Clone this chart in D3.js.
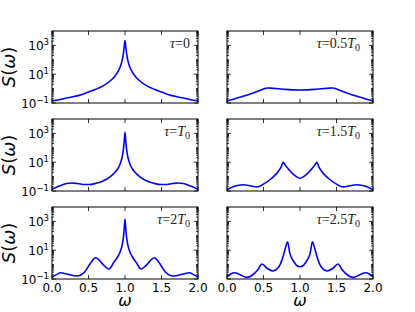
<!DOCTYPE html>
<html><head><meta charset="utf-8">
<script src="https://cdn.jsdelivr.net/npm/d3@7"></script>
<style>body{margin:0;background:#fff}svg{display:block}</style>
</head><body><svg id="c" width="415" height="312"></svg>
<script>
// ---- data ----
const tauNum = ["0", "0.5", "", "1.5", "2", "2.5"];   // τ = num·T0 ("0" means plain τ=0)
const xTicks = [0, 0.5, 1.0, 1.5, 2.0];
const xTickLabels = ["0.0", "0.5", "1.0", "1.5", "2.0"];
const yTicks = [0.1, 10, 1000];
const yTickExp = ["\u22121", "1", "3"];

const omega0 = [0,0.1,0.2,0.3,0.4,0.5,0.6,0.7,0.8,0.85,0.9,0.93,0.95,0.97,0.98,0.99,1.0,1.01,1.02,1.03,1.05,1.07,1.1,1.15,1.2,1.3,1.4,1.5,1.6,1.7,1.8,1.9,2.0];
const spectrum0 = [0.14,0.17,0.22,0.28,0.38,0.58,0.9,1.55,3.5,6.2,14,28,55,150,330,900,2200,900,330,150,55,28,14,6.2,3.5,1.55,0.9,0.58,0.38,0.28,0.22,0.17,0.14];

const omega1 = [0,0.1,0.2,0.3,0.4,0.5,0.55,0.6,0.7,0.8,0.9,1.0,1.1,1.2,1.3,1.4,1.45,1.5,1.6,1.7,1.8,1.9,2.0];
const spectrum1 = [0.14,0.19,0.27,0.39,0.6,0.95,1.1,1.08,0.98,0.88,0.82,0.8,0.82,0.88,0.98,1.08,1.1,0.95,0.6,0.39,0.27,0.19,0.14];

const omega2 = [0,0.1,0.2,0.27,0.35,0.45,0.5,0.6,0.7,0.8,0.85,0.9,0.93,0.95,0.97,0.98,0.99,1.0,1.01,1.02,1.03,1.05,1.07,1.1,1.15,1.2,1.3,1.4,1.5,1.55,1.65,1.73,1.8,1.9,2.0];
const spectrum2 = [0.13,0.22,0.33,0.36,0.33,0.28,0.28,0.34,0.5,1.0,1.7,3.5,7,14,40,95,320,1200,320,95,40,14,7,3.5,1.7,1.0,0.5,0.34,0.28,0.28,0.33,0.36,0.33,0.22,0.13];

const omega3 = [0,0.1,0.22,0.3,0.41,0.5,0.6,0.7,0.74,0.77,0.8,0.85,0.9,0.95,1.0,1.05,1.1,1.15,1.2,1.23,1.26,1.3,1.4,1.5,1.59,1.7,1.78,1.9,2.0];
const spectrum3 = [0.12,0.21,0.27,0.24,0.19,0.3,0.68,2.2,4.5,10,6,3,1.6,1.0,0.76,1.0,1.6,3,6,10,4.5,2.2,0.68,0.3,0.19,0.24,0.27,0.21,0.12];

const omega4 = [0,0.06,0.12,0.2,0.34,0.45,0.52,0.57,0.6,0.64,0.7,0.78,0.85,0.9,0.93,0.95,0.97,0.98,0.99,1.0,1.01,1.02,1.03,1.05,1.07,1.1,1.15,1.22,1.3,1.36,1.4,1.43,1.48,1.55,1.66,1.8,1.88,1.94,2.0];
const spectrum4 = [0.13,0.2,0.27,0.22,0.16,0.32,1.1,2.4,3,2.2,1.0,0.5,1.5,3.5,7,14,40,90,350,1400,350,90,40,14,7,3.5,1.5,0.5,1.0,2.2,3,2.4,1.1,0.32,0.16,0.22,0.27,0.2,0.13];

const omega5 = [0,0.05,0.1,0.18,0.27,0.35,0.42,0.48,0.55,0.63,0.7,0.76,0.8,0.83,0.86,0.9,0.95,1.0,1.05,1.1,1.14,1.17,1.2,1.24,1.3,1.37,1.45,1.52,1.58,1.65,1.73,1.82,1.9,1.95,2.0];
const spectrum5 = [0.14,0.22,0.27,0.2,0.13,0.19,0.42,1.1,0.55,0.36,0.6,2.7,14,39,6.3,2.1,0.93,0.71,0.93,2.1,6.3,39,14,2.7,0.6,0.36,0.55,1.1,0.42,0.19,0.13,0.2,0.27,0.22,0.14];

const omegas = [omega0, omega1, omega2, omega3, omega4, omega5];
const spectra = [spectrum0, spectrum1, spectrum2, spectrum3, spectrum4, spectrum5];

// ---- layout ----
const colX = [52, 227], rowY = [31, 119, 207];
const W = 146, H = 72;
const svg = d3.select("#c");
const SANS = "'DejaVu Sans', sans-serif";
const SERIF = "'Liberation Serif', 'DejaVu Serif', serif";

for (let i = 0; i < 6; i++) {
  const r = Math.floor(i / 2), c = i % 2;
  const x0 = colX[c], y0 = rowY[r];
  const g = svg.append("g").attr("transform", `translate(${x0},${y0})`);
  const x = d3.scaleLinear().domain([0, 2]).range([0, W]);
  const y = d3.scaleLog().domain([0.1, 1e4]).range([H, 0]);

  g.append("clipPath").attr("id", "cp" + i).append("rect").attr("width", W).attr("height", H);

  const line = d3.line().x(d => x(d[0])).y(d => y(d[1])).curve(d3.curveMonotoneX);
  const pts = omegas[i].map((w, k) => [w, spectra[i][k]]);
  g.append("path").datum(pts).attr("d", line).attr("fill", "none")
    .attr("stroke", "#0000ff").attr("stroke-width", 1.6).attr("clip-path", `url(#cp${i})`)
    .attr("stroke-linejoin", "round");

  // ticks inward on all sides
  const tk = g.append("g").attr("stroke", "#000").attr("stroke-width", 0.8);
  xTicks.forEach(t => {
    tk.append("line").attr("x1", x(t)).attr("x2", x(t)).attr("y1", H).attr("y2", H - 4);
    tk.append("line").attr("x1", x(t)).attr("x2", x(t)).attr("y1", 0).attr("y2", 4);
  });
  const minor = [];
  for (let e = -1; e < 4; e++) for (let m = 1; m < 10; m++) {
    const v = m * Math.pow(10, e);
    if (!yTicks.some(t => Math.abs(t - v) < 1e-9)) minor.push(v);
  }
  minor.forEach(v => {
    tk.append("line").attr("x1", 0).attr("x2", 2).attr("y1", y(v)).attr("y2", y(v));
    tk.append("line").attr("x1", W).attr("x2", W - 2).attr("y1", y(v)).attr("y2", y(v));
  });
  yTicks.forEach(v => {
    tk.append("line").attr("x1", 0).attr("x2", 4).attr("y1", y(v)).attr("y2", y(v));
    tk.append("line").attr("x1", W).attr("x2", W - 4).attr("y1", y(v)).attr("y2", y(v));
  });

  g.append("rect").attr("width", W).attr("height", H).attr("fill", "none")
    .attr("stroke", "#000").attr("stroke-width", 1);

  // y tick labels
  if (c === 0) {
    yTicks.forEach((v, k) => {
      const t = g.append("text").attr("x", -3).attr("y", y(v) + 4.5)
        .attr("text-anchor", "end").attr("font-family", SANS).attr("font-size", 12).attr("fill", "#000");
      t.append("tspan").text("10");
      t.append("tspan").attr("dy", -5).attr("font-size", 8.5).text(yTickExp[k]);
    });
  }
  // x tick labels
  if (r === 2) {
    xTicks.forEach((v, k) => {
      g.append("text").attr("x", x(v)).attr("y", H + 13).attr("text-anchor", "middle")
        .attr("font-family", SANS).attr("font-size", 12).attr("fill", "#000").text(xTickLabels[k]);
    });
    g.append("text").attr("x", W / 2).attr("y", H + 27).attr("text-anchor", "middle")
      .attr("font-family", SANS).attr("font-style", "italic").attr("font-size", 16).text("\u03c9");
  }
  // y label
  if (c === 0) {
    svg.append("text").attr("transform", `translate(14.5,${y0 + H / 2}) rotate(-90)`)
      .attr("text-anchor", "middle").attr("font-family", SANS).attr("font-size", 18)
      .call(t => {
        t.append("tspan").attr("font-style", "italic").text("S");
        t.append("tspan").text("(");
        t.append("tspan").attr("font-style", "italic").text("\u03c9");
        t.append("tspan").text(")");
      });
  }
  // panel title
  const tt = g.append("text").attr("x", c === 0 ? W - 8 : W - 13).attr("y", 17)
    .attr("text-anchor", "end").attr("font-family", SERIF).attr("font-size", 14).attr("fill", "#222");
  tt.append("tspan").attr("font-style", "italic").text("\u03c4");
  if (tauNum[i] === "0") {
    tt.append("tspan").text("=0");
  } else {
    tt.append("tspan").text("=" + tauNum[i]);
    tt.append("tspan").attr("font-style", "italic").text("T");
    tt.append("tspan").attr("dy", 3).attr("font-size", 10).text("0");
  }
}
</script>
</body></html>
